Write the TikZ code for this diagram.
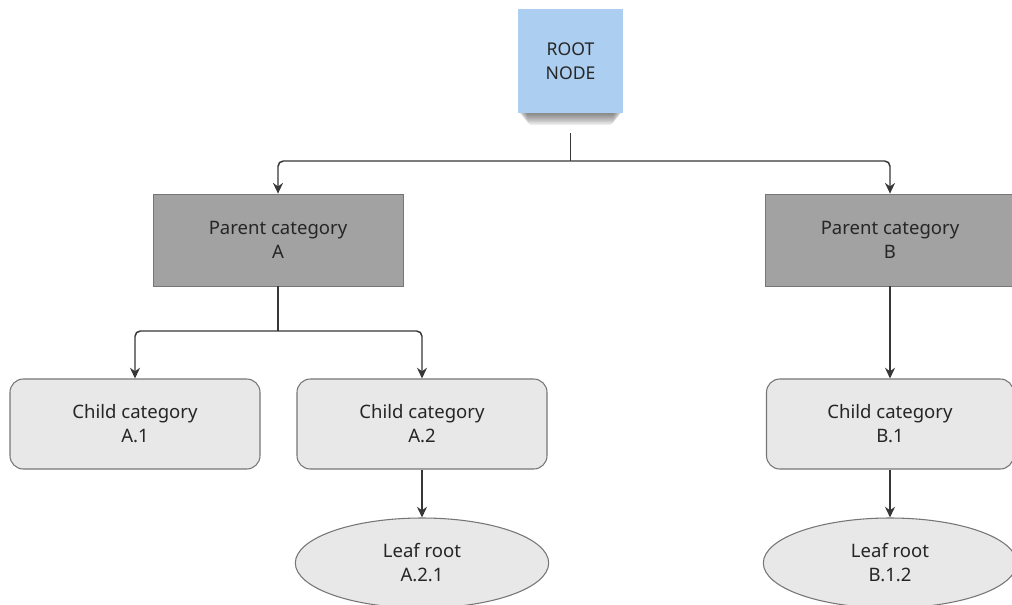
\documentclass[tikz,border=0pt]{standalone}
\usepackage{fontspec}
\setmainfont{Noto Sans}
\usetikzlibrary{positioning,shapes.geometric,arrows.meta,backgrounds}
\definecolor{rootblue}{RGB}{172,206,240}
\definecolor{parentgray}{RGB}{162,162,162}
\definecolor{childgray}{RGB}{232,232,232}
\definecolor{linegray}{RGB}{55,55,55}
\definecolor{edgegray}{RGB}{118,118,118}
\definecolor{textgray}{RGB}{38,38,38}

\begin{document}
\begin{tikzpicture}[x=0.75pt,y=0.75pt,yscale=-1,xscale=1,
    every node/.style={text=textgray,align=center,inner sep=0pt,font=\fontsize{13.9}{18}\selectfont},
    rootbox/.style={rectangle,fill=rootblue,minimum width=78.75pt,minimum height=78pt,
        font=\fontsize{13.2}{18}\selectfont},
    parentbox/.style={rectangle,fill=parentgray,draw=edgegray,line width=0.6pt,minimum width=187.5pt,minimum height=69pt},
    childbox/.style={rectangle,rounded corners=10pt,fill=childgray,draw=edgegray,line width=0.8pt,minimum width=187.5pt,minimum height=67.5pt},
    leafbox/.style={ellipse,fill=childgray,draw=edgegray,line width=0.8pt,minimum width=190pt,minimum height=67.5pt},
    link/.style={draw=linegray,line width=1.1pt,rounded corners=4pt},
    arrowlink/.style={link,-{Stealth[length=8pt,width=7.5pt]}}
]
    %set diagram area: 1012 x 604
    \clip (0,0) rectangle (1012,604);

    % Root
    \node[rootbox] (root) at (570.5,61) {ROOT\\NODE};

    % Parents
    \node[parentbox] (pA) at (278,240) {Parent category\\A};
    \node[parentbox] (pB) at (890,240) {Parent category\\B};

    % Children
    \node[childbox] (cA1) at (135,424) {Child category\\A.1};
    \node[childbox] (cA2) at (422,424) {Child category\\A.2};
    \node[childbox,minimum width=185.25pt] (cB1) at (890,424) {Child category\\B.1};

    % Leaves
    \node[leafbox] (lA21) at (422,563) {Leaf root\\A.2.1};
    \node[leafbox] (lB12) at (890,563) {Leaf root\\B.1.2};

    % Forks
    \coordinate (rootfork) at (570.5,161);
    \coordinate (Afork) at (278,331);

    % Connectors
    \draw[link,shorten <=15pt] (root) -- (rootfork);
    \draw[arrowlink] (rootfork) -| (pA);
    \draw[arrowlink] (rootfork) -| (pB);
    \draw[link] (pA) -- (Afork);
    \draw[arrowlink] (Afork) -| (cA1);
    \draw[arrowlink] (Afork) -| (cA2);
    \draw[arrowlink] (pB) -- (cB1);
    \draw[arrowlink] (cA2) -- (lA21);
    \draw[arrowlink] (cB1) -- (lB12);

    % soft shadow under the root note (y axis is flipped)
    \begin{scope}[on background layer]
        \fill[white] (0,0) rectangle (1012,604);
        \foreach \i in {1,...,8}
            \fill[black,opacity=0.07,rounded corners=3pt]
                ([xshift=0.9*\i pt,yshift=-6pt]root.south west) rectangle ([xshift=-0.9*\i pt,yshift={1.1*\i pt}]root.south east);
    \end{scope}

\end{tikzpicture}
\end{document}
